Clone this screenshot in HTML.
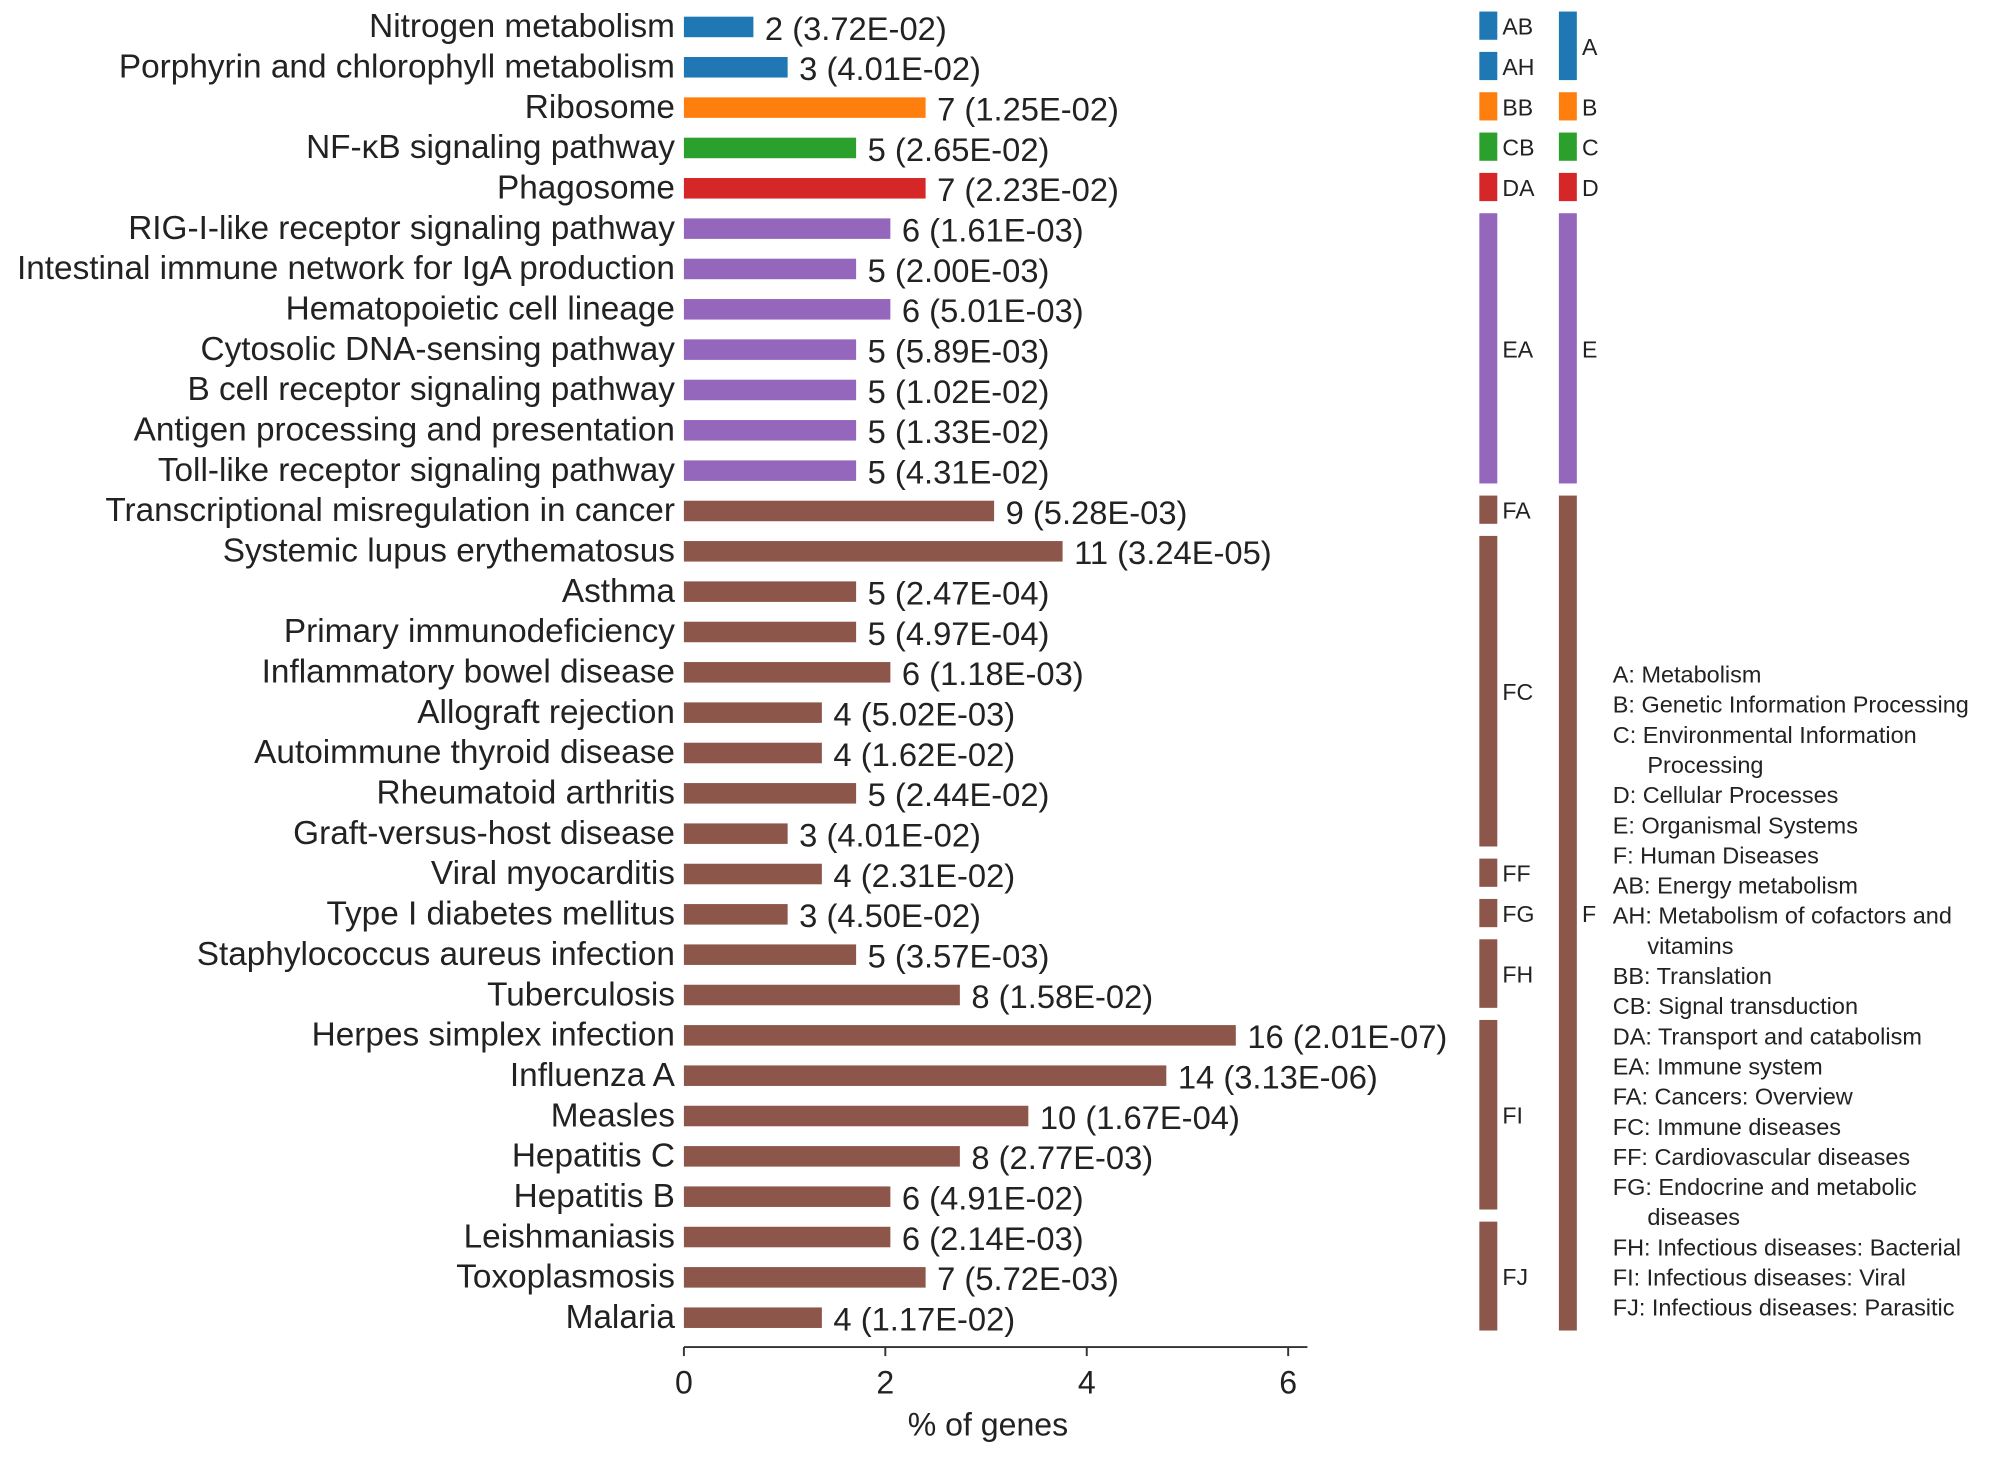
<!DOCTYPE html>
<html><head><meta charset="utf-8"><style>
html,body{margin:0;padding:0;background:#fff;}
svg{display:block;font-family:"Liberation Sans",Arial,sans-serif;}
</style></head><body>
<svg id="chart" width="2008" height="1460" viewBox="0 0 1565 1138" xmlns="http://www.w3.org/2000/svg"></svg>
<script>
const pathways = ["Nitrogen metabolism","Porphyrin and chlorophyll metabolism","Ribosome","NF-\u03baB signaling pathway","Phagosome","RIG-I-like receptor signaling pathway","Intestinal immune network for IgA production","Hematopoietic cell lineage","Cytosolic DNA-sensing pathway","B cell receptor signaling pathway","Antigen processing and presentation","Toll-like receptor signaling pathway","Transcriptional misregulation in cancer","Systemic lupus erythematosus","Asthma","Primary immunodeficiency","Inflammatory bowel disease","Allograft rejection","Autoimmune thyroid disease","Rheumatoid arthritis","Graft-versus-host disease","Viral myocarditis","Type I diabetes mellitus","Staphylococcus aureus infection","Tuberculosis","Herpes simplex infection","Influenza A","Measles","Hepatitis C","Hepatitis B","Leishmaniasis","Toxoplasmosis","Malaria"];
const percents = [0.69,1.03,2.4,1.71,2.4,2.05,1.71,2.05,1.71,1.71,1.71,1.71,3.08,3.76,1.71,1.71,2.05,1.37,1.37,1.71,1.03,1.37,1.03,1.71,2.74,5.48,4.79,3.42,2.74,2.05,2.05,2.4,1.37];
const counts = [2,3,7,5,7,6,5,6,5,5,5,5,9,11,5,5,6,4,4,5,3,4,3,5,8,16,14,10,8,6,6,7,4];
const pvalues = ["3.72E-02","4.01E-02","1.25E-02","2.65E-02","2.23E-02","1.61E-03","2.00E-03","5.01E-03","5.89E-03","1.02E-02","1.33E-02","4.31E-02","5.28E-03","3.24E-05","2.47E-04","4.97E-04","1.18E-03","5.02E-03","1.62E-02","2.44E-02","4.01E-02","2.31E-02","4.50E-02","3.57E-03","1.58E-02","2.01E-07","3.13E-06","1.67E-04","2.77E-03","4.91E-02","2.14E-03","5.72E-03","1.17E-02"];
const categories = ["A","A","B","C","D","E","E","E","E","E","E","E","F","F","F","F","F","F","F","F","F","F","F","F","F","F","F","F","F","F","F","F","F"];
const subcategories = ["AB","AH","BB","CB","DA","EA","EA","EA","EA","EA","EA","EA","FA","FC","FC","FC","FC","FC","FC","FC","FC","FF","FG","FH","FH","FI","FI","FI","FI","FI","FJ","FJ","FJ"];
const xTicks = [0,2,4,6];
const legendLines = ["A: Metabolism","B: Genetic Information Processing","C: Environmental Information","   Processing","D: Cellular Processes","E: Organismal Systems","F: Human Diseases","AB: Energy metabolism","AH: Metabolism of cofactors and","   vitamins","BB: Translation","CB: Signal transduction","DA: Transport and catabolism","EA: Immune system","FA: Cancers: Overview","FC: Immune diseases","FF: Cardiovascular diseases","FG: Endocrine and metabolic","   diseases","FH: Infectious diseases: Bacterial","FI: Infectious diseases: Viral","FJ: Infectious diseases: Parasitic"];

const colors = {A:"#1f77b4",B:"#ff7f0e",C:"#2ca02c",D:"#d62728",E:"#9467bd",F:"#8c564b"};
const svg = document.getElementById('chart');
const NS = "http://www.w3.org/2000/svg";
const x0 = 533, xScale = (1004-533)/6;
const xPos = v => x0 + v*xScale;
const yPos = i => 21 + i*31.44;
function mk(tag, attrs, text){const e=document.createElementNS(NS,tag);for(const k in attrs)e.setAttribute(k,attrs[k]);if(text!==undefined)e.textContent=text;svg.appendChild(e);return e;}

pathways.forEach((p,i)=>{
  const y=yPos(i);
  const lab=mk('text',{x:526,y:y+8,'text-anchor':'end','font-size':26,fill:'#222'},p);
  
  
  const b=mk('rect',{x:x0,y:y-8,width:xPos(percents[i])-x0,height:16,fill:colors[categories[i]]});
  
  
  const v=mk('text',{x:xPos(percents[i])+9,y:y+10,'font-size':25.5,fill:'#222'},counts[i]+" ("+pvalues[i]+")");
  
  
});

const ax=mk('line',{x1:x0,y1:1050,x2:1019,y2:1050,stroke:'#333','stroke-width':1.5});


xTicks.forEach(t=>{
  const tk=mk('line',{x1:xPos(t),y1:1050,x2:xPos(t),y2:1057,stroke:'#333','stroke-width':1.5});
  
  
  const tl=mk('text',{x:xPos(t),y:1086,'text-anchor':'middle','font-size':25,fill:'#222'},String(t));
  
  
});
const xt=mk('text',{x:770,y:1119,'text-anchor':'middle','font-size':25,fill:'#222'},"% of genes");



function groups(arr){const g=[];arr.forEach((v,i)=>{if(g.length&&g[g.length-1].k===v)g[g.length-1].e=i;else g.push({k:v,s:i,e:i});});return g;}
function drawGroups(arr,bx,lx,fs){
  groups(arr).forEach(g=>{
    const top=yPos(g.s)-12, bot=yPos(g.e)+10;
    const r=mk('rect',{x:bx,y:top,width:14,height:bot-top,fill:colors[g.k[0]]});
    
    
    const t=mk('text',{x:lx,y:(top+bot)/2+7,'font-size':fs,fill:'#222'},g.k);
    
    
  });
}
drawGroups(subcategories,1153,1171,18);
drawGroups(categories,1215,1233,18);

legendLines.forEach((l,i)=>{
  const ind=l.startsWith('   ');
  const t=mk('text',{x:ind?1284:1257,y:532+i*23.5,'font-size':18.3,fill:'#222'},l.trim());
  
  
});
</script>
</body></html>
